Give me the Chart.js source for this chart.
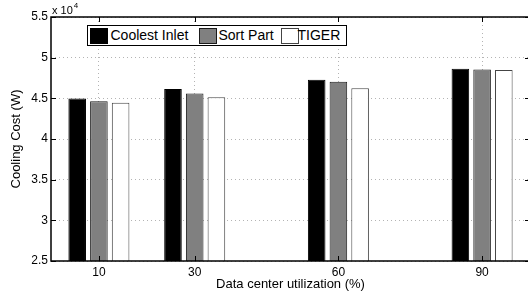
<!DOCTYPE html>
<html>
<head>
<meta charset="utf-8">
<script src="https://cdn.jsdelivr.net/npm/chart.js@4/dist/chart.umd.min.js"></script>
<style>
  html, body { margin: 0; padding: 0; background: #fff; }
  #wrap { position: relative; width: 528px; height: 294px; overflow: hidden; }
  #c { position: absolute; left: 0; top: 0; }
  #legend {
    position: absolute; left: 87px; top: 25px; width: 258px; height: 19px;
    border: 1.5px solid #000; background: #fff;
    font: 14px "Liberation Sans", Arial, Helvetica, sans-serif; color: #000;
  }
  #legend .sw { position: absolute; top: 1.5px; width: 16px; height: 14px; border: 1px solid #000; }
  #legend .tx { position: absolute; top: 1px; line-height: 16px; white-space: nowrap; }
</style>
</head>
<body>
<div id="wrap">
  <canvas id="c" width="532" height="294"></canvas>
  <div id="legend"></div>
</div>
<script>
// ── Data ───────────────────────────────────────────────────────────────────────
const utilization  = [10, 30, 60, 90];                 // x positions (%)
const coolestInlet = [44970, 46150, 47300, 48650];     // W
const sortPart     = [44650, 45580, 47050, 48530];
const tiger        = [44470, 45130, 46240, 48490];
const yTicks       = [25000, 30000, 35000, 40000, 45000, 50000, 55000];

const FONT = '"Liberation Sans", Arial, Helvetica, sans-serif';

const series = [
  { label: 'Coolest Inlet', data: coolestInlet, fill: '#000000', edge: '#000000' },
  { label: 'Sort Part',     data: sortPart,     fill: '#808080', edge: '#1a1a1a' },
  { label: 'TIGER',         data: tiger,        fill: '#ffffff', edge: '#444444' },
];

// MATLAB-ish box: full frame, inward ticks on all four sides, "x 10^4" multiplier.
const boxPlugin = {
  id: 'box',
  afterDraw(chart) {
    const { ctx, chartArea: a, scales: { x, y } } = chart;
    ctx.save();
    ctx.strokeStyle = '#000';
    ctx.lineWidth = 1;
    ctx.beginPath();
    const tl = 5;
    x.ticks.forEach(t => {
      const px = Math.round(x.getPixelForValue(t.value)) + 0.5;
      ctx.moveTo(px, a.top);    ctx.lineTo(px, a.top + tl);
      ctx.moveTo(px, a.bottom); ctx.lineTo(px, a.bottom - tl);
    });
    y.ticks.forEach(t => {
      const py = Math.round(y.getPixelForValue(t.value)) + 0.5;
      ctx.moveTo(a.left, py);  ctx.lineTo(a.left + tl, py);
      ctx.moveTo(a.right, py); ctx.lineTo(a.right - tl, py);
    });
    ctx.stroke();
    ctx.lineWidth = 1.5;
    ctx.strokeRect(a.left, a.top, a.right - a.left, a.bottom - a.top);

    ctx.fillStyle = '#000';
    ctx.textBaseline = 'alphabetic';
    ctx.font = '11px ' + FONT;
    ctx.fillText('x 10', a.left + 1, a.top - 3);
    const w = ctx.measureText('x 10').width;
    ctx.font = '8px ' + FONT;
    ctx.fillText('4', a.left + 2 + w, a.top - 9);
    ctx.restore();
  }
};

new Chart(document.getElementById('c').getContext('2d'), {
  type: 'bar',
  data: {
    datasets: series.map(s => ({
      label: s.label,
      data: utilization.map((u, i) => ({ x: u, y: s.data[i] })),
      backgroundColor: s.fill,
      borderColor: s.edge,
      borderWidth: 1,
      borderSkipped: false,
      categoryPercentage: 0.68,
      barPercentage: 0.81,
    }))
  },
  options: {
    responsive: false,
    animation: false,
    events: [],
    layout: { padding: { top: 17, right: 2, bottom: 0, left: 0 } },
    plugins: { legend: { display: false }, tooltip: { enabled: false } },
    scales: {
      x: {
        type: 'linear', min: 0, max: 100, offset: false,
        afterBuildTicks: s => { s.ticks = utilization.map(v => ({ value: v })); },
        afterFit: s => { s.height = 33; },
        grid: { offset: false, drawTicks: false, color: '#b4b4b4', lineWidth: 1 },
        border: { display: false, dash: [1, 3] },
        ticks: { color: '#000', padding: 4, font: { family: FONT, size: 12 },
                 maxRotation: 0, callback: v => String(v) },
        title: { display: true, text: 'Data center utilization (%)', color: '#000',
                 font: { family: FONT, size: 13 }, padding: { top: 0, bottom: 2 } },
      },
      y: {
        min: 25000, max: 55000,
        afterBuildTicks: s => { s.ticks = yTicks.map(v => ({ value: v })); },
        afterFit: s => { s.width = 51; },
        grid: { drawTicks: false, color: '#b4b4b4', lineWidth: 1 },
        border: { display: false, dash: [1, 3] },
        ticks: { color: '#000', padding: 3, font: { family: FONT, size: 12 },
                 callback: v => String(v / 10000) },
        title: { display: true, text: 'Cooling Cost (W)', color: '#000',
                 font: { family: FONT, size: 13 }, padding: { top: 9, bottom: 0 } },
      }
    }
  },
  plugins: [boxPlugin]
});

// Legend box inside the plot, laid out like the MATLAB one.
const legendPos = [
  { sw: 1.5,  tx: 22.5 },
  { sw: 110.5, tx: 130.5 },
  { sw: 192.5, tx: 209.5 },
];
const legend = document.getElementById('legend');
series.forEach((s, i) => {
  const sw = document.createElement('div');
  sw.className = 'sw';
  sw.style.left = legendPos[i].sw + 'px';
  sw.style.background = s.fill;
  sw.style.borderColor = s.edge;
  const tx = document.createElement('div');
  tx.className = 'tx';
  tx.style.left = legendPos[i].tx + 'px';
  tx.textContent = s.label;
  legend.appendChild(sw);
  legend.appendChild(tx);
});
</script>
</body>
</html>
